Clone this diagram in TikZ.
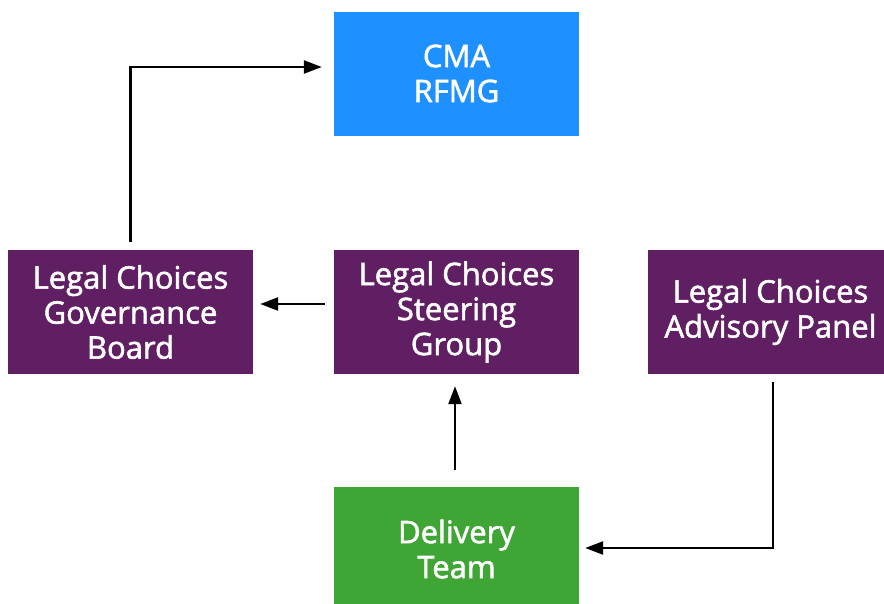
\documentclass[tikz,border=0pt]{standalone}
\usepackage{fontspec}
\setmainfont{Open Sans}
\newfontfamily\boxfont[FakeBold=1.8]{Open Sans}
\usetikzlibrary{arrows.meta}

\definecolor{rfmgblue}{HTML}{1E90FF}
\definecolor{lcpurple}{HTML}{601F62}
\definecolor{teamgreen}{HTML}{3FA535}

\tikzset{
  unit/.style = {minimum width=245pt, minimum height=124pt, inner sep=0pt,
                 align=center, text=white, font=\boxfont\fontsize{31}{35}\selectfont},
  link/.style = {line width=2.4pt, -{Triangle[length=18pt,width=13pt]}}
}

\begin{document}
\begin{tikzpicture}[x=1pt, y=-1pt]
\useasboundingbox (0,0) rectangle (884,603);

% boxes
\node [unit, fill=rfmgblue] (cma) at (456.5,73.5) {CMA\\RFMG};
\node [unit, fill=lcpurple] (board) at (130.5,312) {Legal Choices\\Governance\\Board};
\node [unit, fill=lcpurple] (steer) at (456.5,312) {Legal Choices\\Steering\\Group};
\node [unit, fill=lcpurple] (panel) at (770.5,312) {Legal Choices\\Advisory Panel};
\node [unit, fill=teamgreen] (team) at (456.5,549) {Delivery\\Team};

% corner of the bent link on the right
\coordinate (c2) at (773,548);

% links
\draw [link, shorten >=12pt] ([yshift=8pt]board.north) |- ([yshift=6.5pt]cma.west);
\draw [link, shorten <=9pt, shorten >=7pt] ([yshift=8pt]steer.west) -- ([yshift=8pt]board.east);
\draw [link, shorten <=17pt, shorten >=12pt] ([xshift=-1.5pt]team.north) -- ([xshift=-1.5pt]steer.south);
\draw [link, shorten <=8pt, shorten >=6pt] ([xshift=2.5pt]panel.south) -- (c2) -- (team.east |- c2);
\end{tikzpicture}
\end{document}
